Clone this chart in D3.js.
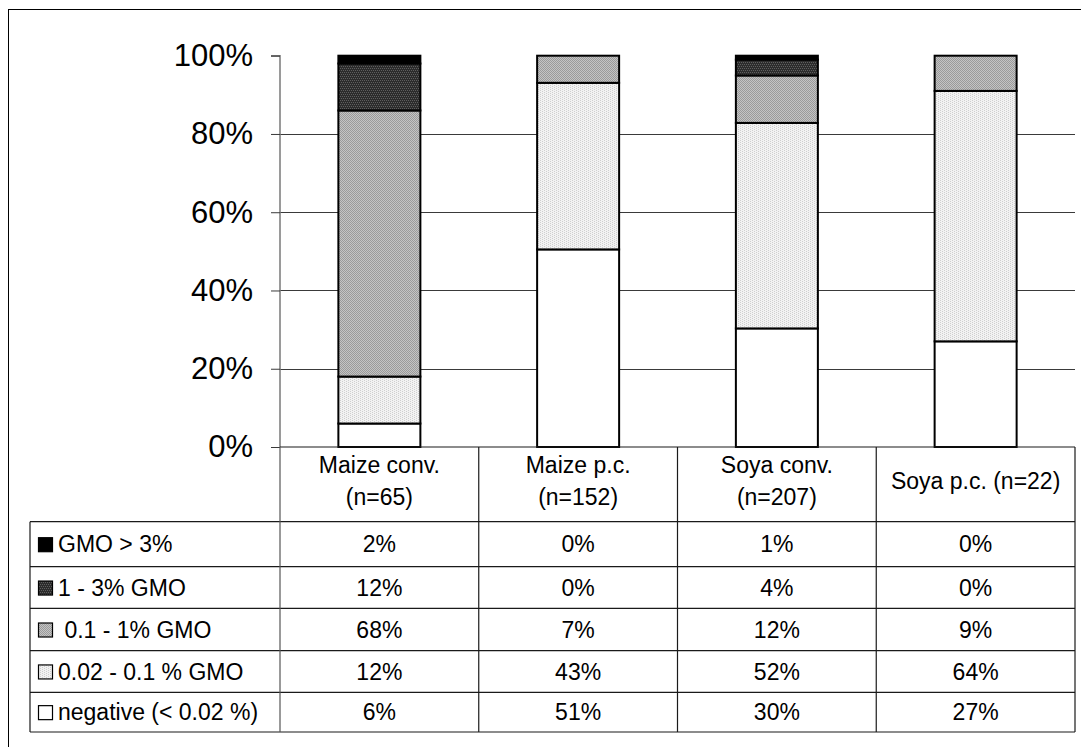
<!DOCTYPE html>
<html><head><meta charset="utf-8">
<script src="https://cdn.jsdelivr.net/npm/d3@7"></script>
<style>
html,body{margin:0;padding:0;background:#fff;}
svg{display:block;font-family:"Liberation Sans",Arial,sans-serif;}
text{white-space:pre;}
</style></head>
<body>
<svg id="chart" width="1081" height="747"></svg>
<script>
// ---- data ----
const categories = ["Maize conv.", "Maize p.c.", "Soya conv.", "Soya p.c."];
const categoryHeaderLines = [["Maize conv.", "(n=65)"], ["Maize p.c.", "(n=152)"], ["Soya conv.", "(n=207)"], ["Soya p.c. (n=22)"]];
const seriesNames = ["GMO > 3%", "1 - 3% GMO", " 0.1 - 1% GMO", "0.02 - 0.1 % GMO", "negative (< 0.02 %)"];
const gmoOver3 = [2, 0, 1, 0];
const gmo1to3 = [12, 0, 4, 0];
const gmo01to1 = [68, 7, 12, 9];
const gmo002to01 = [12, 43, 52, 64];
const negative = [6, 51, 30, 27];
const yTickValues = [0, 0.2, 0.4, 0.6, 0.8, 1.0];

const seriesValues = [gmoOver3, gmo1to3, gmo01to1, gmo002to01, negative];
const seriesKeys = ["s0", "s1", "s2", "s3", "s4"];

// ---- layout ----
const svg = d3.select("#chart");
const plotLeft = 280, plotRight = 1075, plotTop = 55.7, plotBottom = 447;
const tableLeft = 30;
const headerBottom = 521.7;
const rowHeights = [45, 41.7, 42.2, 41.7, 39.7];
const tableFont = 23;

// patterns
const defs = svg.append("defs");
function pat(id, bg, fg, cells) {
  const p = defs.append("pattern").attr("id", id).attr("patternUnits", "userSpaceOnUse")
    .attr("width", 4).attr("height", 4);
  p.append("rect").attr("width", 4).attr("height", 4).attr("fill", bg);
  cells.forEach(c => p.append("rect").attr("x", c[0]).attr("y", c[1]).attr("width", 1).attr("height", 1).attr("fill", fg));
}
pat("p1", "#2c2c2c", "#5e5e5e", [[0,0],[2,0],[1,2],[3,2]]);
pat("p2", "#c4c4c4", "#9a9a9a", [[0,0],[1,1],[2,2],[3,3],[2,0],[3,1],[0,2],[1,3]]);
pat("p3", "#f2f2f2", "#cfcfcf", [[0,0],[0,2],[2,1],[2,3]]);
const fills = ["#000000", "url(#p1)", "url(#p2)", "url(#p3)", "#ffffff"];

// outer border
svg.append("rect").attr("x", 8.5).attr("y", 9.5).attr("width", 1100).attr("height", 760)
  .attr("fill", "none").attr("stroke", "#000").attr("stroke-width", 1);

const x = d3.scaleBand().domain(categories).range([plotLeft, plotRight]).paddingInner(0).paddingOuter(0);
const y = d3.scaleLinear().domain([0, 1]).range([plotBottom, plotTop]);

// gridlines
svg.append("g").selectAll("line").data(yTickValues.filter(v => v > 0 && v < 1)).join("line")
  .attr("x1", plotLeft).attr("x2", plotRight)
  .attr("y1", d => Math.round(y(d)) + 0.5).attr("y2", d => Math.round(y(d)) + 0.5)
  .attr("stroke", "#3a3a3a").attr("stroke-width", 1);

// y axis
const yAxis = d3.axisLeft(y).tickValues(yTickValues).tickFormat(d3.format(".0%")).tickSize(9).tickPadding(18);
const gy = svg.append("g").attr("transform", `translate(${plotLeft},0)`).call(yAxis);
gy.select(".domain").attr("stroke", "#7a7a7a").attr("stroke-width", 1.5).attr("d", `M-9,${y(1)}H0V${y(0)}`);
gy.selectAll(".tick line").attr("stroke", "#3a3a3a");
gy.selectAll(".tick text").attr("font-size", 31).attr("fill", "#000")
  .attr("font-family", "Liberation Sans, Arial, sans-serif");

// stacked bars
const rows = categories.map((c, i) => {
  const o = { cat: c };
  seriesKeys.forEach((k, j) => o[k] = seriesValues[j][i]);
  return o;
});
const stackOrder = ["s4", "s3", "s2", "s1", "s0"]; // bottom to top
const stacked = d3.stack().keys(stackOrder).offset(d3.stackOffsetExpand)(rows);
const barW = 82;
const barG = svg.append("g");
stacked.forEach(layer => {
  const idx = seriesKeys.indexOf(layer.key);
  barG.selectAll(null).data(layer.filter(d => d[1] - d[0] > 0)).join("rect")
    .attr("x", d => x(d.data.cat) + x.bandwidth() / 2 - barW / 2)
    .attr("width", barW)
    .attr("y", d => y(d[1]))
    .attr("height", d => y(d[0]) - y(d[1]))
    .attr("fill", fills[idx])
    .attr("stroke", "#000").attr("stroke-width", 2);
});

// ---- data table ----
const tg = svg.append("g");
const lineColor = "#1a1a1a";
const rowTops = [headerBottom];
rowHeights.forEach((h, i) => rowTops.push(rowTops[i] + h));
const tableBottom = rowTops[rowTops.length - 1];

tg.append("line").attr("x1", plotLeft).attr("x2", plotRight).attr("y1", plotBottom).attr("y2", plotBottom)
  .attr("stroke", lineColor).attr("stroke-width", 1.2);
rowTops.forEach(t => tg.append("line").attr("x1", tableLeft).attr("x2", plotRight)
  .attr("y1", t).attr("y2", t).attr("stroke", lineColor).attr("stroke-width", 1.2));
tg.append("line").attr("x1", tableLeft).attr("x2", tableLeft).attr("y1", headerBottom).attr("y2", tableBottom)
  .attr("stroke", lineColor).attr("stroke-width", 1.2);
const colEdges = categories.map(c => x(c)).concat([plotRight]);
colEdges.forEach(cx => tg.append("line").attr("x1", cx).attr("x2", cx).attr("y1", plotBottom).attr("y2", tableBottom)
  .attr("stroke", cx === plotLeft ? "#555" : lineColor).attr("stroke-width", 1.2));

// header text
categoryHeaderLines.forEach((lines, i) => {
  const cx = x(categories[i]) + x.bandwidth() / 2;
  const t = tg.append("text").attr("x", cx).attr("text-anchor", "middle").attr("font-size", tableFont).attr("fill", "#000");
  if (lines.length === 1) {
    t.append("tspan").attr("x", cx).attr("y", 489).text(lines[0]);
  } else {
    t.append("tspan").attr("x", cx).attr("y", 473).text(lines[0]);
    t.append("tspan").attr("x", cx).attr("y", 505).text(lines[1]);
  }
});

// rows
seriesNames.forEach((name, r) => {
  const cy = rowTops[r] + rowHeights[r] / 2;
  tg.append("rect").attr("x", 38.5).attr("y", cy - 6.5).attr("width", 14).attr("height", 14)
    .attr("fill", fills[r]).attr("stroke", "#000").attr("stroke-width", 1.2);
  tg.append("text").attr("x", 58).attr("y", cy).attr("dy", "0.36em").attr("font-size", tableFont).attr("fill", "#000")
    .text(name);
  seriesValues[r].forEach((v, i) => {
    tg.append("text").attr("x", x(categories[i]) + x.bandwidth() / 2).attr("y", cy).attr("dy", "0.36em")
      .attr("text-anchor", "middle").attr("font-size", tableFont).attr("fill", "#000").text(v + "%");
  });
});
</script>
</body></html>
